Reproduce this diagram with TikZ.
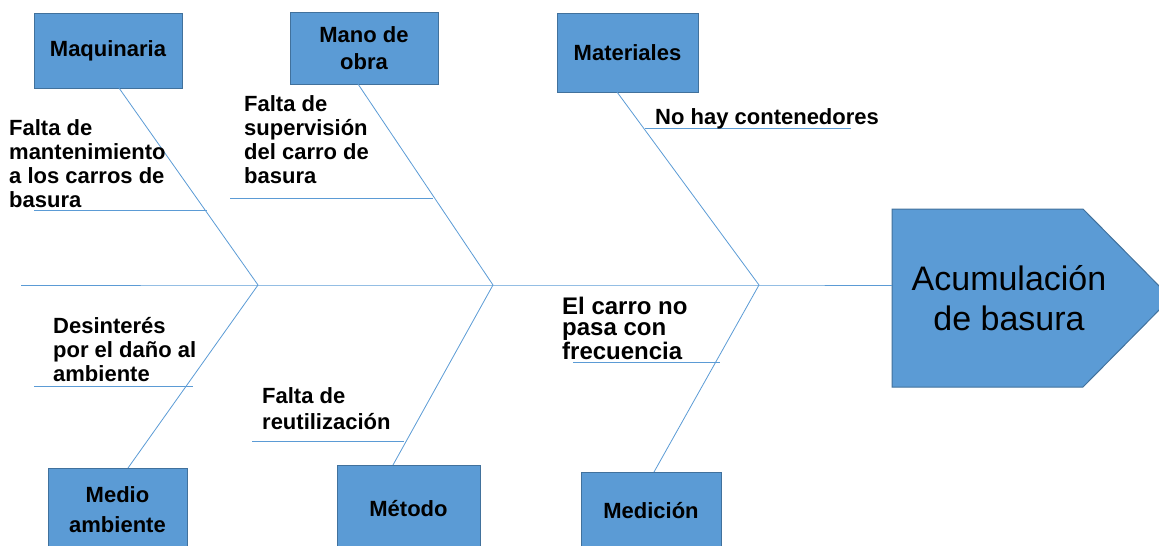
\documentclass[tikz,border=0pt]{standalone}
\usepackage{fontspec}
\setmainfont{Liberation Sans}
\definecolor{boxfill}{HTML}{5B9BD5}
\definecolor{boxline}{HTML}{41719C}
\definecolor{bone}{HTML}{5B9BD5}
\begin{document}
\begin{tikzpicture}[x=1pt,y=-1pt,
  cat/.style={draw=boxline, fill=boxfill, line width=1pt, inner sep=0pt, align=center,
    font=\fontsize{22}{27}\selectfont\bfseries},
  cause/.style={inner sep=0pt, anchor=base west, align=left,
    font=\fontsize{22}{24}\selectfont\bfseries},
  boneline/.style={draw=bone, line width=0.8pt}]
\useasboundingbox (0,0) rectangle (1159,546);
\clip (0,0) rectangle (1159,546);
% head
\coordinate (h1) at (892,209);
\coordinate (h2) at (1083,209);
\coordinate (h3) at (1171,298);
\coordinate (h4) at (1083,387);
\coordinate (h5) at (892,387);
\fill[boxfill] (h1) -- (h2) -- (h3) -- (h4) -- (h5) -- cycle;
\draw[boxline, line width=1pt] (h1) -- (h2) -- (h3) -- (h4) -- (h5) -- cycle;
\node[inner sep=0pt, align=center, font=\fontsize{34}{40}\selectfont] (effect) at (1009,298) {Acumulación\\de basura};
\coordinate (hw) at (892,285);
% categories
\node[cat, minimum width=148pt, minimum height=75pt] (maq) at (108,50.5) {Maquinaria};
\node[cat, minimum width=148pt, minimum height=72pt] (mano) at (364,48) {Mano de\\obra};
\node[cat, minimum width=141pt, minimum height=79pt] (mat) at (627.5,52.5) {Materiales};
\node[cat, minimum width=139pt, minimum height=84pt, font=\fontsize{22}{30}\selectfont\bfseries] (medio) at (117.5,510) {Medio\\ambiente};
\node[cat, minimum width=143pt, minimum height=87pt] (met) at (408.5,508.5) {Método};
\node[cat, minimum width=140pt, minimum height=78pt] (med) at (651,511) {Medición};
% spine
\coordinate (tail) at (21,285);
\coordinate (j1) at (258,285);
\coordinate (j2) at (493,285);
\coordinate (j3) at (759,285);
\draw[boneline] (tail) -- (j1) -- (j2) -- (j3) -- (hw);
% bones
\coordinate (b1) at (119,88);
\coordinate (b2) at (358,84);
\coordinate (b3) at (617,92);
\coordinate (b4) at (128,468);
\coordinate (b5) at (393,465);
\coordinate (b6) at (654,472);
\draw[boneline] (b1) -- (j1) -- (b4);
\draw[boneline] (b2) -- (j2) -- (b5);
\draw[boneline] (b3) -- (j3) -- (b6);
% sub bones
\coordinate (s1a) at (34,210);  \coordinate (s1b) at (207,210);
\coordinate (s2a) at (230,198); \coordinate (s2b) at (433,198);
\coordinate (s3a) at (645,128); \coordinate (s3b) at (851,128);
\coordinate (s4a) at (34,386);  \coordinate (s4b) at (193,386);
\coordinate (s5a) at (252,441); \coordinate (s5b) at (404,441);
\coordinate (s6a) at (573,362); \coordinate (s6b) at (720,362);
\draw[boneline] (s1a) -- (s1b);
\draw[boneline] (s2a) -- (s2b);
\draw[boneline] (s3a) -- (s3b);
\draw[boneline] (s4a) -- (s4b);
\draw[boneline] (s5a) -- (s5b);
\draw[boneline] (s6a) -- (s6b);
% causes (anchor = baseline of last line)
\node[cause] (c1) at (9,207) {Falta de\\mantenimiento\\a los carros de\\basura};
\node[cause] (c2) at (244,183) {Falta de\\supervisión\\del carro de\\basura};
\node[cause] (c3) at (655,124) {No hay contenedores};
\node[cause] (c4) at (53,381) {Desinterés\\por el daño al\\ambiente};
\node[cause, font=\fontsize{22}{26}\selectfont\bfseries] (c5) at (262,429) {Falta de\\reutilización};
\node[cause, font=\fontsize{24}{21}\selectfont\bfseries] (c6) at (562,359) {El carro no\\pasa con\\frecuencia};
\end{tikzpicture}
\end{document}
